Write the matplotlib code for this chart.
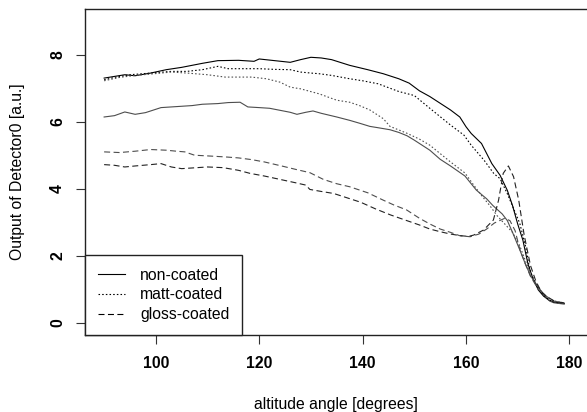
import matplotlib
matplotlib.use("Agg")
import matplotlib.pyplot as plt
from matplotlib.lines import Line2D

plt.rcParams['font.family'] = ['Liberation Sans', 'DejaVu Sans']

# ---- data ----
ang_nc1 = [90, 92, 94, 96, 99, 102, 105, 109, 112, 116, 119, 120, 123, 126, 128, 130, 132, 134,
           137.5, 141, 144, 147, 149, 151, 153, 155, 157, 158.8, 160, 161, 163, 165, 166.6, 168,
           169, 170, 171, 172, 173, 174, 175, 176, 177, 178, 179]
val_nc1 = [7.30, 7.35, 7.40, 7.37, 7.45, 7.55, 7.62, 7.74, 7.82, 7.83, 7.80, 7.87, 7.82, 7.77, 7.85,
           7.92, 7.90, 7.85, 7.68, 7.55, 7.43, 7.28, 7.15, 6.92, 6.75, 6.55, 6.35, 6.14, 5.85, 5.65,
           5.35, 4.75, 4.40, 3.95, 3.50, 2.95, 2.47, 1.75, 1.30, 0.98, 0.80, 0.68, 0.62, 0.60, 0.58]

ang_nc2 = [90, 92, 94, 96, 98, 101, 104, 107, 109, 112, 114, 116.3, 117.8, 120, 122, 124, 126,
           127.3, 129, 130.4, 132, 135, 137.5, 139.5, 141.4, 143, 145.3, 147, 148.6, 150, 153, 155,
           157, 159.8, 162, 164, 165.2, 167, 168, 169, 170.4, 171.4, 172.5, 174.3, 175, 176.2, 177,
           178, 179]
val_nc2 = [6.14, 6.18, 6.29, 6.22, 6.27, 6.42, 6.45, 6.48, 6.52, 6.54, 6.57, 6.58, 6.44, 6.42, 6.40,
           6.34, 6.28, 6.22, 6.28, 6.32, 6.25, 6.14, 6.04, 5.95, 5.86, 5.82, 5.76, 5.68, 5.58, 5.45,
           5.15, 4.88, 4.68, 4.38, 3.96, 3.70, 3.50, 3.25, 3.05, 2.70, 2.18, 1.79, 1.40, 1.00, 0.85,
           0.65, 0.60, 0.58, 0.56]

ang_mc1 = [90, 92, 95, 99, 103, 106, 109, 112, 114, 117, 120, 123, 126, 128, 130, 131.6, 134,
           137.5, 140, 143, 147, 150, 153, 155, 157, 159.6, 161, 163.5, 165.4, 166.6, 168, 169.5,
           170.4, 171.5, 172.4, 173.5, 175, 176, 177, 178, 179]
val_mc1 = [7.25, 7.32, 7.40, 7.45, 7.50, 7.50, 7.55, 7.65, 7.58, 7.58, 7.58, 7.56, 7.55, 7.48, 7.45,
           7.43, 7.38, 7.28, 7.22, 7.13, 6.90, 6.78, 6.40, 6.15, 5.90, 5.60, 5.30, 4.85, 4.45, 4.30,
           3.85, 3.30, 2.97, 2.30, 1.55, 1.15, 0.82, 0.70, 0.62, 0.60, 0.60]

ang_mc2 = [90, 93, 96, 99, 103, 106, 110, 113.4, 118.5, 121.4, 124, 126, 128, 131.6, 135, 137.5,
           139.4, 141.4, 144, 145.3, 148.5, 151, 153, 155, 157, 159.8, 161.3, 163, 164.6, 166,
           167.5, 169, 170.4, 171.5, 172.5, 174, 175.5, 176.5, 178, 179]
val_mc2 = [7.22, 7.32, 7.38, 7.42, 7.48, 7.45, 7.40, 7.33, 7.33, 7.28, 7.18, 7.03, 6.98, 6.83, 6.64,
           6.58, 6.48, 6.35, 6.09, 5.86, 5.66, 5.48, 5.30, 5.05, 4.80, 4.47, 4.15, 3.80, 3.50, 3.20,
           2.95, 2.70, 2.30, 1.85, 1.45, 1.05, 0.78, 0.68, 0.62, 0.60]

ang_gc1 = [90, 93, 96, 99, 102, 104, 105.6, 107.5, 110, 113.4, 116, 118.5, 121, 124.6, 127, 129.8,
           132.4, 135, 137.5, 141, 144, 146, 148.5, 151, 153, 155, 157, 158.8, 160.8, 162.5, 164,
           165.5, 167.5, 168.5, 169.5, 170.4, 171.5, 172.5, 174, 175.5, 177, 178, 179]
val_gc1 = [5.10, 5.08, 5.12, 5.17, 5.15, 5.12, 5.10, 5.00, 4.98, 4.95, 4.92, 4.87, 4.80, 4.67, 4.58,
           4.48, 4.28, 4.15, 4.06, 3.88, 3.66, 3.52, 3.37, 3.12, 2.95, 2.80, 2.70, 2.60, 2.57, 2.65,
           2.80, 2.98, 3.12, 3.05, 2.75, 2.20, 1.75, 1.38, 1.00, 0.80, 0.65, 0.62, 0.60]

ang_gc2 = [90, 92, 94, 96, 99, 101, 103, 105, 107, 110, 113, 116, 118.2, 121, 124.6, 127, 129,
           129.8, 132, 134.4, 137, 139.6, 142.5, 145.4, 148, 151, 153, 155, 157, 159, 160.5, 161.5,
           163.4, 165.3, 166.3, 167.2, 168.2, 169.2, 170.2, 171.2, 171.7, 172.5, 173.5, 174.5,
           175.5, 177, 178, 179]
val_gc2 = [4.72, 4.70, 4.65, 4.68, 4.72, 4.75, 4.65, 4.60, 4.62, 4.65, 4.63, 4.55, 4.46, 4.38, 4.26,
           4.18, 4.11, 3.98, 3.92, 3.86, 3.73, 3.60, 3.40, 3.22, 3.08, 2.92, 2.80, 2.72, 2.65, 2.60,
           2.58, 2.62, 2.77, 3.07, 3.66, 4.46, 4.68, 4.36, 3.66, 2.67, 2.28, 1.70, 1.25, 0.95, 0.80,
           0.66, 0.62, 0.60]

legend_labels = ["non-coated", "matt-coated", "gloss-coated"]
x_ticks = [100, 120, 140, 160, 180]
y_ticks = [0, 2, 4, 6, 8]

# ---- figure ----
W, H = 587, 412
fig = plt.figure(figsize=(W / 100, H / 100), dpi=100)
left, right, top, bottom = 85, 588, 9, 335
ax = fig.add_axes([left / W, (H - bottom) / H, (right - left) / W, (bottom - top) / H])

lw = 0.8
solid = '-'
dotted = (0, (1.4, 1.9))
dashed = (0, (5.4, 3.1))

ax.plot(ang_nc1, val_nc1, color='#000000', lw=lw, ls=solid)
ax.plot(ang_nc2, val_nc2, color='#4d4d4d', lw=lw, ls=solid)
ax.plot(ang_mc1, val_mc1, color='#000000', lw=lw, ls=dotted)
ax.plot(ang_mc2, val_mc2, color='#4d4d4d', lw=lw, ls=dotted)
ax.plot(ang_gc1, val_gc1, color='#4d4d4d', lw=lw, ls=dashed)
ax.plot(ang_gc2, val_gc2, color='#222222', lw=lw, ls=dashed)

ax.set_xlim(86.3, 183.6)
ax.set_ylim(-0.36, 9.36)
ax.set_xticks(x_ticks)
ax.set_yticks(y_ticks)
ax.set_xticklabels([str(t) for t in x_ticks], fontsize=11.3, fontweight='bold')
ax.set_yticklabels([str(t) for t in y_ticks], fontsize=11.3, fontweight='bold',
                   rotation=90, va='center')
ax.tick_params(axis='both', direction='out', length=6.3, width=0.8, color='#333333')
ax.tick_params(axis='x', pad=8.5)
ax.tick_params(axis='y', pad=8.0)
for s in ax.spines.values():
    s.set_linewidth(1.0)
    s.set_color('#222222')

# legend
handles = [Line2D([], [], color='black', lw=lw, ls=solid),
           Line2D([], [], color='black', lw=lw, ls=dotted),
           Line2D([], [], color='black', lw=lw, ls=dashed)]
leg = ax.legend(handles, legend_labels, loc='lower left', bbox_to_anchor=(0, 0),
                borderaxespad=0, fancybox=False, edgecolor='#222222', framealpha=1,
                fontsize=11.3, handlelength=1.75, handletextpad=0.95, borderpad=0.82,
                labelspacing=0.3)
leg.get_frame().set_linewidth(1.0)

fig.text(336 / W, (H - 397) / H, "altitude angle [degrees]", ha='center', va='top', fontsize=11.3)
fig.text(18 / W, (H - 172) / H, "Output of Detector0 [a.u.]", ha='center', va='center',
         rotation=90, fontsize=11.3)

fig.savefig("out.png", dpi=100)
